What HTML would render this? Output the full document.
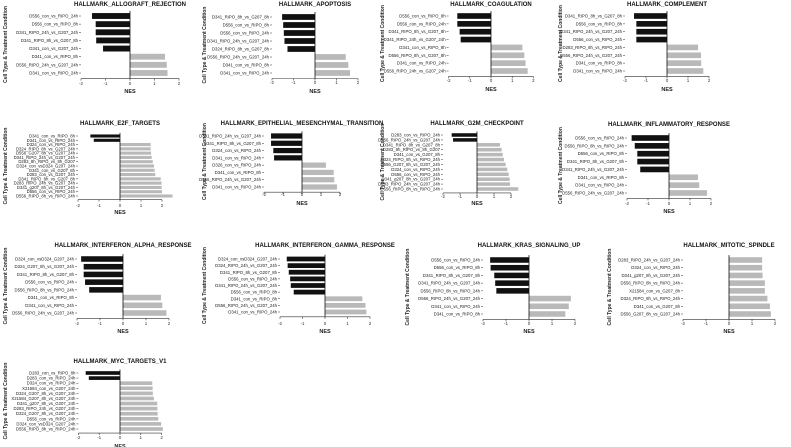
<!DOCTYPE html>
<html><head><meta charset="utf-8"><style>
html,body{margin:0;padding:0;background:#fff;}
svg{display:block;font-family:"Liberation Sans",Arial,sans-serif;}
</style></head><body>
<svg id="chart" width="791" height="447" viewBox="0 0 791 447" xmlns="http://www.w3.org/2000/svg"></svg>
<script>
const tickValues = [-2, -1, 0, 1, 2];
const tickLabels = ["-2", "-1", "0", "1", "2"];

const titles = ["HALLMARK_ALLOGRAFT_REJECTION","HALLMARK_APOPTOSIS","HALLMARK_COAGULATION","HALLMARK_COMPLEMENT","HALLMARK_E2F_TARGETS","HALLMARK_EPITHELIAL_MESENCHYMAL_TRANSITION","HALLMARK_G2M_CHECKPOINT","HALLMARK_INFLAMMATORY_RESPONSE","HALLMARK_INTERFERON_ALPHA_RESPONSE","HALLMARK_INTERFERON_GAMMA_RESPONSE","HALLMARK_KRAS_SIGNALING_UP","HALLMARK_MITOTIC_SPINDLE","HALLMARK_MYC_TARGETS_V1"];

const allograftLabels = ["D556_con_vs_RIPO_24h","D556_con_vs_RIPO_8h","D341_RIPO_24h_vs_G207_24h","D341_RIPO_8h_vs_G207_8h","D341_con_vs_G207_24h","D341_con_vs_RIPO_8h","D556_RIPO_24h_vs_G207_24h","D341_con_vs_RIPO_24h"];
const allograftNES = [-1.55,-1.4,-1.4,-1.38,-1.1,1.43,1.5,1.53];
const apoptosisLabels = ["D341_RIPO_8h_vs_G207_8h","D556_con_vs_RIPO_8h","D556_con_vs_RIPO_24h","D341_RIPO_24h_vs_G207_24h","D324_RIPO_8h_vs_G207_8h","D556_RIPO_24h_vs_G207_24h","D341_con_vs_RIPO_8h","D341_con_vs_RIPO_24h"];
const apoptosisNES = [-1.53,-1.48,-1.45,-1.42,-1.28,1.43,1.55,1.63];
const coagLabels = ["D556_con_vs_RIPO_8h","D556_con_vs_RIPO_24h","D341_RIPO_8h_vs_G207_8h","D341_RIPO_24h_vs_G207_24h","D341_con_vs_RIPO_8h","D556_RIPO_8h_vs_G207_8h","D341_con_vs_RIPO_24h","D556_RIPO_24h_vs_G207_24h"];
const coagNES = [-1.59,-1.59,-1.48,-1.43,1.48,1.57,1.63,1.73];
const complementLabels = ["D341_RIPO_8h_vs_G207_8h","D556_con_vs_RIPO_8h","D341_RIPO_24h_vs_G207_24h","D556_con_vs_RIPO_24h","D283_RIPO_8h_vs_RIPO_24h","D556_RIPO_24h_vs_G207_24h","D341_con_vs_RIPO_8h","D341_con_vs_RIPO_24h"];
const complementNES = [-1.57,-1.46,-1.46,-1.46,1.48,1.62,1.63,1.73];
const e2fLabels = ["D341_con_vs_RIPO_8h","D341_con_vs_RIPO_24h","D324_con_vs_RIPO_24h","D324_RIPO_8h_vs_G207_24h","D556_G207_8h_vs_G207_24h","D341_RIPO_24h_vs_G207_24h","D283_8h_RIPO_vs_8h_G207","D324_con_vsD324_G207_24h","D341_con_vs_G207_8h","D283_con_vs_G207_24h","D341_RIPO_8h_vs_G207_8h","D283_RIPO_24h_vs_G207_24h","D341_g207_8h_vs_G207_24h","D556_con_vs_RIPO_24h","D556_RIPO_8h_vs_RIPO_24h"];
const e2fNES = [-1.41,-1.25,1.46,1.46,1.48,1.51,1.56,1.62,1.65,1.68,1.94,1.98,1.98,2.0,2.5];
const emtLabels = ["D341_RIPO_24h_vs_G207_24h","D341_RIPO_8h_vs_G207_8h","D324_con_vs_RIPO_24h","D341_con_vs_RIPO_24h","D326_con_vs_RIPO_24h","D341_con_vs_RIPO_8h","D556_RIPO_24h_vs_G207_24h","D341_con_vs_RIPO_24h"];
const emtNES = [-1.63,-1.63,-1.51,-1.47,1.26,1.67,1.7,1.84];
const g2mLabels = ["D283_con_vs_RIPO_24h","D556_RIPO_24h_vs_G207_24h","D341_RIPO_8h_vs_G207_8h","D283_8h_RIPO_vs_8h_G207","D341_con_vs_G207_8h","D324_RIPO_8h_vs_RIPO_24h","D556_G207_8h_vs_G207_24h","D324_con_vs_RIPO_24h","D556_con_vs_RIPO_24h","D341_g207_8h_vs_G207_24h","D283_RIPO_24h_vs_G207_24h","D556_RIPO_8h_vs_RIPO_24h"];
const g2mNES = [-1.49,-1.41,1.35,1.45,1.51,1.59,1.69,1.78,1.86,1.92,1.94,2.43];
const inflamLabels = ["D556_con_vs_RIPO_24h","D556_RIPO_8h_vs_RIPO_24h","D556_con_vs_RIPO_8h","D341_RIPO_8h_vs_G207_8h","D341_RIPO_24h_vs_G207_24h","D341_con_vs_RIPO_8h","D341_con_vs_RIPO_24h","D556_RIPO_24h_vs_G207_24h"];
const inflamNES = [-1.78,-1.63,-1.51,-1.51,-1.37,1.38,1.44,1.81];
const ifnaLabels = ["D324_con_vsD324_G207_24h","D324_G207_8h_vs_G207_24h","D341_RIPO_8h_vs_G207_8h","D556_con_vs_RIPO_24h","D556_RIPO_8h_vs_RIPO_24h","D341_con_vs_RIPO_8h","D341_con_vs_RIPO_24h","D556_RIPO_24h_vs_G207_24h"];
const ifnaNES = [-1.82,-1.71,-1.71,-1.65,-1.47,1.65,1.71,1.89];
const ifngLabels = ["D324_con_vsD324_G207_24h","D324_RIPO_24h_vs_G207_24h","D341_RIPO_8h_vs_G207_8h","D556_con_vs_RIPO_24h","D341_RIPO_24h_vs_G207_24h","D556_con_vs_RIPO_8h","D341_con_vs_RIPO_8h","D556_RIPO_24h_vs_G207_24h","D341_con_vs_RIPO_24h"];
const ifngNES = [-1.7,-1.66,-1.61,-1.55,-1.52,-1.39,1.66,1.8,1.84];
const krasLabels = ["D556_con_vs_RIPO_24h","D556_con_vs_RIPO_8h","D341_RIPO_8h_vs_G207_8h","D341_RIPO_24h_vs_G207_24h","D556_RIPO_8h_vs_RIPO_24h","D556_RIPO_24h_vs_G207_24h","D341_con_vs_RIPO_24h","D341_con_vs_RIPO_8h"];
const krasNES = [-1.69,-1.67,-1.51,-1.47,-1.42,1.82,1.73,1.58];
const mitoticLabels = ["D283_RIPO_24h_vs_G207_24h","D324_con_vs_RIPO_24h","D341_g207_8h_vs_G207_24h","D556_RIPO_8h_vs_RIPO_24h","X21584_con_vs_G207_8h","D324_RIPO_8h_vs_RIPO_24h","D341_con_vs_G207_8h","D556_G207_8h_vs_G207_24h"];
const mitoticNES = [1.44,1.44,1.46,1.56,1.56,1.67,1.78,1.82];
const mycLabels = ["D283_con_vs_RIPO_8h","D283_con_vs_RIPO_24h","D324_con_vs_RIPO_24h","X21584_con_vs_G207_24h","D324_G207_8h_vs_G207_24h","X21584_G207_8h_vs_G207_24h","D341_g207_8h_vs_G207_24h","D283_RIPO_24h_vs_G207_24h","D324_G207_8h_vs_G207_24h","D556_con_vs_RIPO_24h","D324_con_vsD324_G207_24h","D556_RIPO_8h_vs_RIPO_24h"];
const mycNES = [-1.65,-1.5,1.55,1.57,1.58,1.63,1.79,1.8,1.81,1.84,1.98,2.06];

const panelLabels = [allograftLabels,apoptosisLabels,coagLabels,complementLabels,e2fLabels,emtLabels,g2mLabels,inflamLabels,ifnaLabels,ifngLabels,krasLabels,mitoticLabels,mycLabels];
const panelValues = [allograftNES,apoptosisNES,coagNES,complementNES,e2fNES,emtNES,g2mNES,inflamNES,ifnaNES,ifngNES,krasNES,mitoticNES,mycNES];

// layout geometry: zero x, px per unit, first row center y, last row center y, title y, tick label y, NES y, y-title x
const layout = [
 [130,24.5,16,73,6,85,93,4],
 [315,21.5,17,73,6,84,93,203],
 [491,21.2,16,71,6,82,91,381],
 [667,21,16,71,6,82,91,559],
 [120,21,136,196,125,207,214,4],
 [302,19,136,187,125,196,205,203],
 [477,17,135,189,125,198,205,381],
 [669,21,138,193,126,205,213,559],
 [123,23,259,313,247,325,333,4],
 [325,22.5,259,312,247,325,333,203],
 [529,23,260,314,247,325,333,406],
 [729,23,260,314,247,325,333,608],
 [120,20.8,373,429,363,439,448,4]
];

const NS = "http://www.w3.org/2000/svg";
const svg = document.getElementById("chart");
function mk(tag, attrs, parent) {
  const e = document.createElementNS(NS, tag);
  for (const k in attrs) e.setAttribute(k, attrs[k]);
  (parent || svg).appendChild(e);
  return e;
}

panelLabels.forEach((labels, p) => {
  const vals = panelValues[p];
  const [zx, unit, y0, y1, ty, tky, nesy, ytx] = layout[p];
  const xScale = v => zx + v * unit;
  const n = labels.length;
  const step = n > 1 ? (y1 - y0) / (n - 1) : 8;
  const yScale = i => y0 + i * step;
  const bh = step * 0.72;
  const fs = Math.min(4.3, step * 1.0);
  const g = mk("g", {});
  
  

  const t = mk("text", {x: zx, y: ty, "text-anchor": "middle", "font-size": 6, "font-weight": "bold", fill: "#111"}, g);
  t.textContent = titles[p];
  
  

  const yt = mk("text", {x: ytx + 3, y: (y0 + y1) / 2, "text-anchor": "middle", "font-size": 5, "font-weight": "bold", fill: "#222", transform: "rotate(-90 " + (ytx + 3) + " " + ((y0 + y1) / 2) + ")"}, g);
  yt.textContent = "Cell Type & Treatment Condition";
  
  

  const leftX = xScale(tickValues[0]);
  const axisY = y1 + step / 2 + 1.5;

  labels.forEach((lab, i) => {
    const v = vals[i];
    const y = yScale(i);
    const x0 = Math.min(xScale(0), xScale(v));
    const r = mk("rect", {x: x0, y: y - bh / 2, width: Math.abs(xScale(v) - xScale(0)), height: bh, fill: v < 0 ? "#111" : "#b9b9b9"}, g);
    
    
    const tl = mk("text", {x: leftX - 3, y: y + fs * 0.35, "text-anchor": "end", "font-size": fs, fill: "#222"}, g);
    tl.textContent = lab;
    
    
    mk("line", {x1: leftX - 2, x2: leftX, y1: y, y2: y, stroke: "#333", "stroke-width": 0.5}, g);
  });

  const zl = mk("line", {x1: xScale(0), x2: xScale(0), y1: y0 - step / 2 - 1, y2: axisY, stroke: "#111", "stroke-width": 0.8}, g);
  
  
  const xa = mk("line", {x1: leftX, x2: xScale(tickValues[tickValues.length - 1]), y1: axisY, y2: axisY, stroke: "#333", "stroke-width": 0.6}, g);
  
  

  tickValues.forEach((tv, k) => {
    mk("line", {x1: xScale(tv), x2: xScale(tv), y1: axisY, y2: axisY + 2, stroke: "#333", "stroke-width": 0.6}, g);
    const tt = mk("text", {x: xScale(tv), y: tky, "text-anchor": "middle", "font-size": 4.5, fill: "#333"}, g);
    tt.textContent = tickLabels[k];
    
    
  });

  const nt = mk("text", {x: zx, y: nesy, "text-anchor": "middle", "font-size": 5.5, "font-weight": "bold", fill: "#222"}, g);
  nt.textContent = "NES";
  
  
});
</script>
</body></html>
